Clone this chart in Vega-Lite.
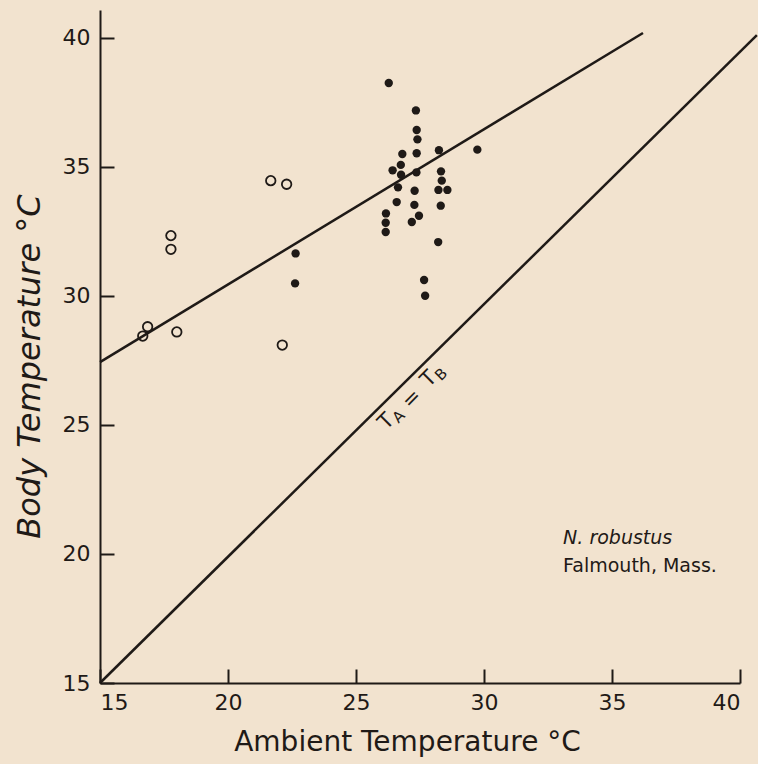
{
  "$schema": "https://vega.github.io/schema/vega-lite/v6.json",
  "width": 640,
  "height": 673,
  "autosize": "none",
  "padding": {"left": 100, "top": 10, "right": 18, "bottom": 81},
  "background": "#f2e3cf",
  "config": {
    "view": {"stroke": null},
    "font": "DejaVu Sans",
    "axis": {
      "domainColor": "#1f1a17",
      "domainWidth": 2,
      "tickColor": "#1f1a17",
      "tickWidth": 2,
      "tickSize": -14,
      "grid": false,
      "labelColor": "#1f1a17",
      "labelFont": "DejaVu Sans",
      "labelFontSize": 22,
      "titleColor": "#1f1a17",
      "titleFont": "DejaVu Sans",
      "titleFontWeight": "normal"
    }
  },
  "datasets": {
    "pts": [
      {"ta": 16.67, "tb": 28.44, "kind": "open"},
      {"ta": 16.86, "tb": 28.8, "kind": "open"},
      {"ta": 18.0, "tb": 28.6, "kind": "open"},
      {"ta": 17.77, "tb": 32.33, "kind": "open"},
      {"ta": 17.77, "tb": 31.8, "kind": "open"},
      {"ta": 21.67, "tb": 34.46, "kind": "open"},
      {"ta": 22.29, "tb": 34.32, "kind": "open"},
      {"ta": 22.12, "tb": 28.09, "kind": "open"},
      {"ta": 22.64, "tb": 31.64, "kind": "filled"},
      {"ta": 22.62, "tb": 30.48, "kind": "filled"},
      {"ta": 26.28, "tb": 38.24, "kind": "filled"},
      {"ta": 27.34, "tb": 37.18, "kind": "filled"},
      {"ta": 27.37, "tb": 36.42, "kind": "filled"},
      {"ta": 27.4, "tb": 36.06, "kind": "filled"},
      {"ta": 27.37, "tb": 35.52, "kind": "filled"},
      {"ta": 26.81, "tb": 35.49, "kind": "filled"},
      {"ta": 28.24, "tb": 35.64, "kind": "filled"},
      {"ta": 29.74, "tb": 35.66, "kind": "filled"},
      {"ta": 26.75, "tb": 35.07, "kind": "filled"},
      {"ta": 26.43, "tb": 34.86, "kind": "filled"},
      {"ta": 27.36, "tb": 34.78, "kind": "filled"},
      {"ta": 26.76, "tb": 34.69, "kind": "filled"},
      {"ta": 28.32, "tb": 34.82, "kind": "filled"},
      {"ta": 28.35, "tb": 34.46, "kind": "filled"},
      {"ta": 28.22, "tb": 34.1, "kind": "filled"},
      {"ta": 28.57, "tb": 34.1, "kind": "filled"},
      {"ta": 26.64, "tb": 34.2, "kind": "filled"},
      {"ta": 27.29, "tb": 34.07, "kind": "filled"},
      {"ta": 26.59, "tb": 33.63, "kind": "filled"},
      {"ta": 27.28, "tb": 33.52, "kind": "filled"},
      {"ta": 28.31, "tb": 33.49, "kind": "filled"},
      {"ta": 26.17, "tb": 33.19, "kind": "filled"},
      {"ta": 26.16, "tb": 32.83, "kind": "filled"},
      {"ta": 26.16, "tb": 32.47, "kind": "filled"},
      {"ta": 27.46, "tb": 33.1, "kind": "filled"},
      {"ta": 27.18, "tb": 32.86, "kind": "filled"},
      {"ta": 28.21, "tb": 32.08, "kind": "filled"},
      {"ta": 27.66, "tb": 30.61, "kind": "filled"},
      {"ta": 27.7, "tb": 30.0, "kind": "filled"}
    ],
    "lines": [
      {"line": "fit", "ta": 15, "tb": 27.43},
      {"line": "fit", "ta": 36.21, "tb": 40.18},
      {"line": "equal", "ta": 15, "tb": 15},
      {"line": "equal", "ta": 40.66, "tb": 40.1}
    ],
    "big": [
      {"ta": 26.19, "tb": 25.12, "t": "T"},
      {"ta": 27.19, "tb": 26.0, "t": "="},
      {"ta": 27.85, "tb": 26.77, "t": "T"}
    ],
    "sub": [
      {"ta": 26.66, "tb": 25.32, "t": "A"},
      {"ta": 28.32, "tb": 26.96, "t": "B"}
    ],
    "noteItalic": [
      {"ta": 33.09, "tb": 20.6, "t": "N. robustus"}
    ],
    "notePlain": [
      {"ta": 33.09, "tb": 19.52, "t": "Falmouth, Mass."}
    ]
  },
  "encoding": {
    "x": {
      "field": "ta",
      "type": "quantitative",
      "scale": {"domain": [15, 40], "nice": false, "zero": false},
      "axis": {
        "values": [15, 20, 25, 30, 35, 40],
        "title": "Ambient Temperature °C",
        "titleFontSize": 28,
        "titlePadding": 15,
        "titleX": 307,
        "labelPadding": 23
      }
    },
    "y": {
      "field": "tb",
      "type": "quantitative",
      "scale": {"domain": [15, 41.07], "nice": false, "zero": false},
      "axis": {
        "values": [15, 20, 25, 30, 35, 40],
        "title": "Body Temperature °C",
        "titleFontSize": 32,
        "titleFontStyle": "italic",
        "titlePadding": 16,
        "titleY": 356,
        "labelPadding": 24
      }
    }
  },
  "layer": [
    {
      "data": {"name": "lines"},
      "mark": {"type": "line", "color": "#1f1a17", "strokeWidth": 2.5, "clip": false},
      "encoding": {"detail": {"field": "line"}}
    },
    {
      "data": {"name": "pts"},
      "transform": [{"filter": "datum.kind === 'open'"}],
      "mark": {"type": "point", "shape": "circle", "filled": false, "stroke": "#1f1a17", "strokeWidth": 1.8, "size": 90, "opacity": 1}
    },
    {
      "data": {"name": "pts"},
      "transform": [{"filter": "datum.kind === 'filled'"}],
      "mark": {"type": "point", "shape": "circle", "filled": true, "fill": "#1f1a17", "size": 70, "opacity": 1}
    },
    {
      "data": {"name": "big"},
      "mark": {"type": "text", "angle": -45, "fontSize": 21, "color": "#1f1a17", "baseline": "middle", "align": "center", "font": "DejaVu Sans"},
      "encoding": {"text": {"field": "t"}}
    },
    {
      "data": {"name": "sub"},
      "mark": {"type": "text", "angle": -45, "fontSize": 15, "color": "#1f1a17", "baseline": "middle", "align": "center", "font": "DejaVu Sans"},
      "encoding": {"text": {"field": "t"}}
    },
    {
      "data": {"name": "noteItalic"},
      "mark": {"type": "text", "fontSize": 19, "fontStyle": "italic", "color": "#1f1a17", "baseline": "middle", "align": "left", "font": "DejaVu Sans"},
      "encoding": {"text": {"field": "t"}}
    },
    {
      "data": {"name": "notePlain"},
      "mark": {"type": "text", "fontSize": 19, "color": "#1f1a17", "baseline": "middle", "align": "left", "font": "DejaVu Sans"},
      "encoding": {"text": {"field": "t"}}
    }
  ]
}
